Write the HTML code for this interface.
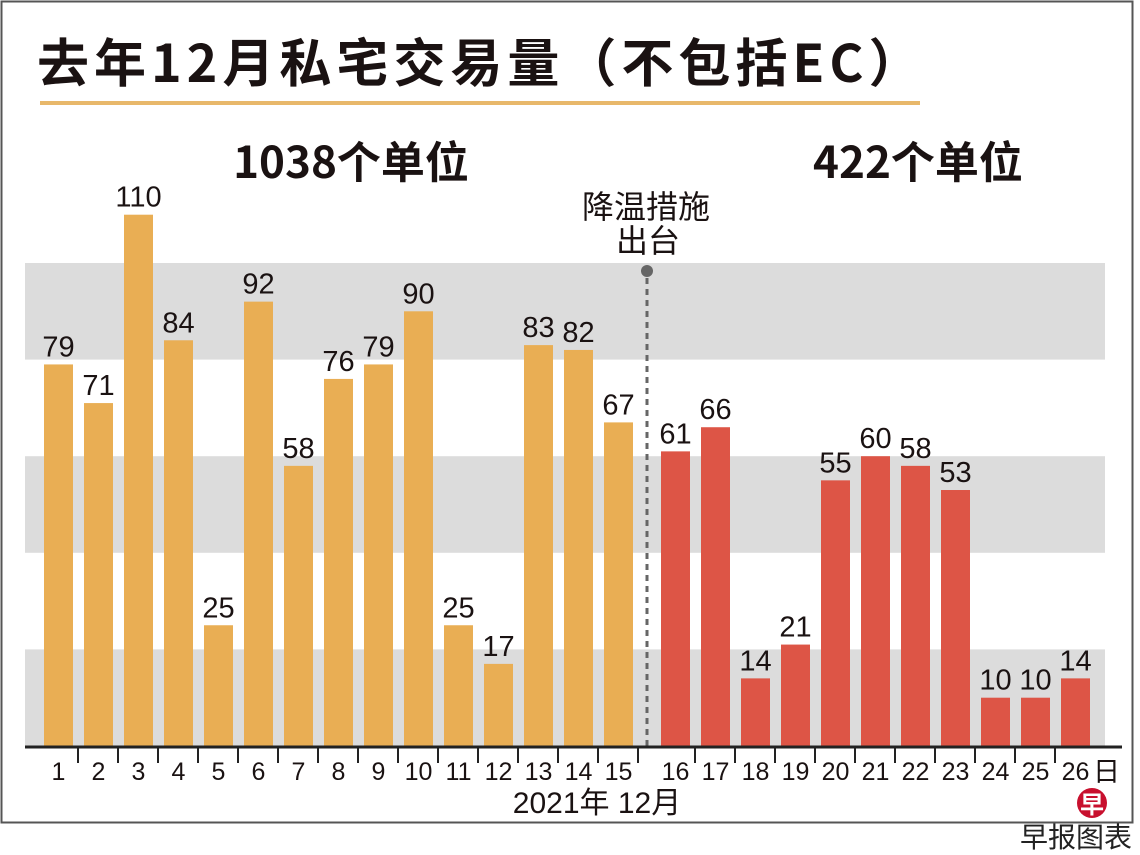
<!DOCTYPE html>
<html><head><meta charset="utf-8">
<style>
body{margin:0;background:#fff;}
svg{display:block;font-family:"Liberation Sans","Noto Sans CJK SC",sans-serif;}
</style></head>
<body>
<svg id="chart" width="1140" height="855" viewBox="0 0 1140 855">
<rect x="1.5" y="1.5" width="1131" height="821" fill="#fff" stroke="#555" stroke-width="2"/>
<text x="37" y="82" font-size="52" font-weight="bold" letter-spacing="5" fill="#1a1212" font-family="'Noto Sans CJK SC',sans-serif">去年12月私宅交易量（不包括EC）</text>
<rect x="40" y="101" width="880" height="4" fill="#e8b86b"/>
<g id="bands"></g>
<text x="351" y="178" font-size="44" font-weight="bold" text-anchor="middle" fill="#1a1212" font-family="'Noto Sans CJK SC',sans-serif">1038个单位</text>
<text x="918" y="178" font-size="44" font-weight="bold" text-anchor="middle" fill="#1a1212" font-family="'Noto Sans CJK SC',sans-serif">422个单位</text>
<text x="646" y="218" font-size="32" text-anchor="middle" fill="#1a1212">降温措施</text>
<text x="648" y="252" font-size="32" text-anchor="middle" fill="#1a1212">出台</text>
<g id="bars"></g>
<line x1="647" y1="278" x2="647" y2="746" stroke="#666" stroke-width="3" stroke-dasharray="6,5"/>
<circle cx="647" cy="271" r="6" fill="#666"/>
<line x1="25" y1="747" x2="1122" y2="747" stroke="#222" stroke-width="3"/>
<g id="xticks"></g>
<text x="597" y="813" font-size="30" text-anchor="middle" fill="#1a1212">2021年 12月</text>
<circle cx="1092" cy="803" r="15" fill="#c8102e"/>
<text x="1092" y="813" font-size="24" font-weight="bold" text-anchor="middle" fill="#fff">早</text>
<text x="1132" y="847" font-size="28" text-anchor="end" fill="#222">早报图表</text>
</svg>
<script>
const days=[1,2,3,4,5,6,7,8,9,10,11,12,13,14,15,16,17,18,19,20,21,22,23,24,25,26];
const values=[79,71,110,84,25,92,58,76,79,90,25,17,83,82,67,61,66,14,21,55,60,58,53,10,10,14];
const bandRanges=[[0,20],[40,60],[80,100]];
const policyDay=16;
const NS="http://www.w3.org/2000/svg";
const base=746,scale=4.83;
function y(v){return base-v*scale;}
function x(d){return 44+(d-1)*40+(d>=policyDay?17:0);}
function mk(t,a){const e=document.createElementNS(NS,t);for(const k in a)e.setAttribute(k,a[k]);return e;}
const bands=document.getElementById('bands');
bandRanges.forEach(r=>{
 const e=mk('rect',{x:25,y:y(r[1]),width:1080,height:y(r[0])-y(r[1]),fill:'#dcdcdc'});
 
 
 bands.appendChild(e);
});
const bars=document.getElementById('bars'),ticks=document.getElementById('xticks');
days.forEach((d,i)=>{
 const v=values[i];
 const r=mk('rect',{x:x(d),y:y(v),width:29,height:v*scale,fill:d>=policyDay?'#dd5546':'#e9ae54'});
 
 
 bars.appendChild(r);
 const t=mk('text',{x:x(d)+14.5,y:y(v)-8,'font-size':29,'text-anchor':'middle',fill:'#1a1212'});
 t.textContent=v;
 
 
 bars.appendChild(t);
 const l=mk('text',{x:x(d)+14.5,y:780,'font-size':25,'text-anchor':'middle',fill:'#1a1212'});
 l.textContent=d;
 
 
 ticks.appendChild(l);
 if(d<days.length){
  const tk=mk('line',{x1:x(d)+34,x2:x(d)+34,y1:747,y2:763,stroke:'#222','stroke-width':2});
  
  
  ticks.appendChild(tk);
 }
});
const dl=mk('text',{x:x(26)+32,y:781,'font-size':27,fill:'#1a1212'});
dl.textContent='日';


ticks.appendChild(dl);
</script>
</body></html>
